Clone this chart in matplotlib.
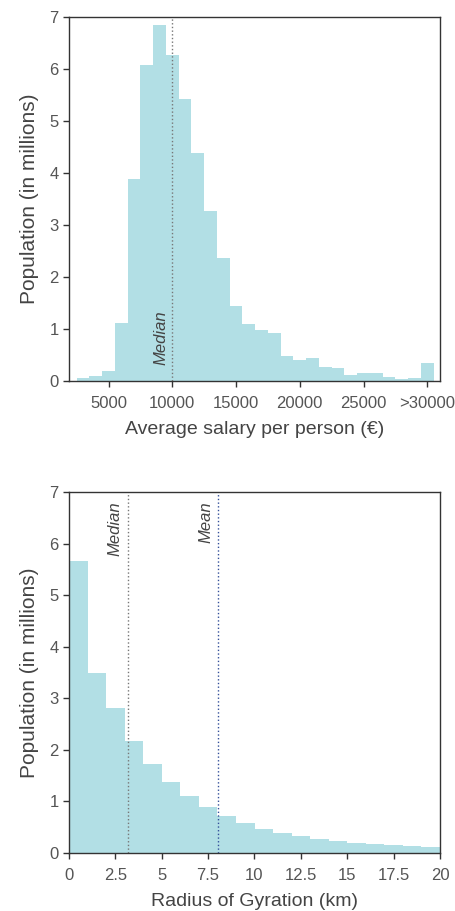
import matplotlib
matplotlib.use('Agg')
import matplotlib.pyplot as plt
import numpy as np

plt.rcParams['font.family'] = ['Liberation Sans', 'DejaVu Sans']

# salary histogram (bins of 1000, centred on the thousands)
salary_centers = np.arange(3000, 31000, 1000)
salary_pop = [0.065, 0.10, 0.19, 1.11, 3.89, 6.07, 6.85, 6.27, 5.42, 4.38,
              3.26, 2.36, 1.44, 1.10, 0.98, 0.92, 0.48, 0.41, 0.45, 0.26,
              0.245, 0.12, 0.15, 0.15, 0.08, 0.03, 0.06, 0.34]
salary_ticks = [5000, 10000, 15000, 20000, 25000, 30000]
salary_ticklabels = ['5000', '10000', '15000', '20000', '25000', '>30000']
salary_median = 10000

# radius of gyration histogram (bins of 1 km)
rg_edges = np.arange(0, 20, 1)
rg_pop = [5.66, 3.50, 2.81, 2.17, 1.72, 1.37, 1.10, 0.89, 0.72, 0.58,
          0.47, 0.39, 0.33, 0.28, 0.23, 0.20, 0.17, 0.15, 0.13, 0.12]
rg_ticks = [0, 2.5, 5, 7.5, 10, 12.5, 15, 17.5, 20]
rg_ticklabels = ['0', '2.5', '5', '7.5', '10', '12.5', '15', '17.5', '20']
rg_median = 3.16
rg_mean = 8.05

bar_color = '#b2dfe5'
txt = '#444444'
W, H = 456, 911

fig = plt.figure(figsize=(W / 100, H / 100), dpi=100)


def axes_px(left, top, right, bottom):
    return fig.add_axes([left / W, 1 - bottom / H, (right - left) / W, (bottom - top) / H])


def style(ax):
    for s in ax.spines.values():
        s.set_color('#333333')
        s.set_linewidth(1.0)
    ax.tick_params(axis='both', colors='#333333', labelcolor='#555555',
                   labelsize=12, length=4, width=1)
    ax.tick_params(axis='x', pad=7)
    ax.set_ylim(0, 7)
    ax.set_yticks(range(0, 8))
    ax.set_ylabel('Population (in millions)', fontsize=15, color=txt, labelpad=7)


ax1 = axes_px(69, 17, 440, 381)
ax1.bar(salary_centers, salary_pop, width=1000, color=bar_color, edgecolor='none')
ax1.set_xlim(1900, 31000)
ax1.set_xticks(salary_ticks)
ax1.set_xticklabels(salary_ticklabels)
ax1.axvline(salary_median, color='#777777', linestyle=':', linewidth=1)
ax1.text(salary_median - 300, 0.3, 'Median', rotation=90, style='italic',
         ha='right', va='bottom', fontsize=12, color=txt)
ax1.set_xlabel('Average salary per person (€)', fontsize=14, color=txt, labelpad=7)
style(ax1)

ax2 = axes_px(69, 492, 440, 853)
ax2.bar(rg_edges, rg_pop, width=1, align='edge', color=bar_color, edgecolor='none')
ax2.set_xlim(0, 20)
ax2.set_xticks(rg_ticks)
ax2.set_xticklabels(rg_ticklabels)
ax2.axvline(rg_median, color='#777777', linestyle=':', linewidth=1)
ax2.axvline(rg_mean, color='#34509a', linestyle=':', linewidth=1)
ax2.text(rg_median - 0.25, 6.82, 'Median', rotation=90, style='italic',
         ha='right', va='top', fontsize=12, color=txt)
ax2.text(rg_mean - 0.25, 6.82, 'Mean', rotation=90, style='italic',
         ha='right', va='top', fontsize=12, color=txt)
ax2.set_xlabel('Radius of Gyration (km)', fontsize=14, color=txt, labelpad=7)
style(ax2)

fig.savefig('out.png', dpi=100)
